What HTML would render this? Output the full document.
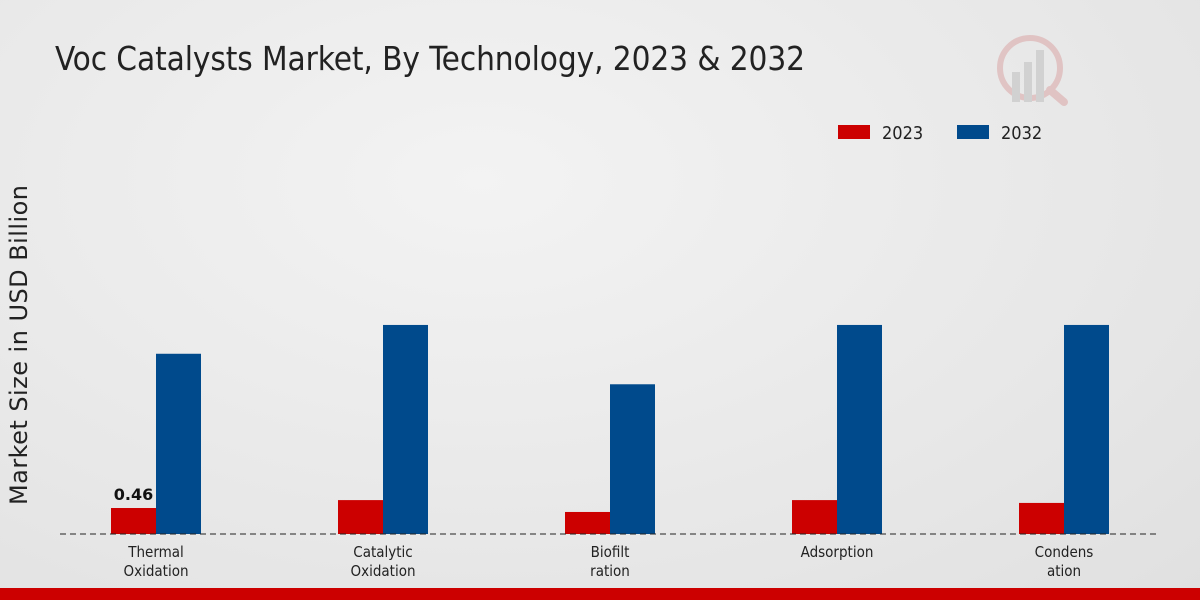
<!DOCTYPE html>
<html><head><meta charset="utf-8"><style>
body{margin:0;width:1200px;height:600px;overflow:hidden;font-family:"Liberation Sans","DejaVu Sans",sans-serif}
#wrap{position:relative;width:1200px;height:600px;background:radial-gradient(ellipse at 40% 30%,#f3f3f3 0%,#e6e6e6 70%,#e0e0e0 100%)}
</style></head><body>
<div id="wrap">
<svg id="chart" width="1200" height="600" style="position:absolute;left:0;top:0">
<text x="55" y="70" font-size="33" fill="#222" font-family="DejaVu Sans Condensed, DejaVu Sans, sans-serif" textLength="750">Voc Catalysts Market, By Technology, 2023 &amp; 2032</text>
<text transform="translate(27,345) rotate(-90)" text-anchor="middle" font-size="24" fill="#222" font-family="DejaVu Sans, sans-serif" textLength="320">Market Size in USD Billion</text>
<g>
<rect x="838" y="125" width="32" height="14" fill="#cc0000"/>
<text x="882" y="139" font-size="18" fill="#222" font-family="DejaVu Sans Condensed, DejaVu Sans, sans-serif">2023</text>
<rect x="957" y="125" width="32" height="14" fill="#004a8c"/>
<text x="1001" y="139" font-size="18" fill="#222" font-family="DejaVu Sans Condensed, DejaVu Sans, sans-serif">2032</text>
</g>
<g opacity="0.5">
<circle cx="1030" cy="68" r="30" fill="none" stroke="#d9a0a0" stroke-width="6"/>
<rect x="1012" y="72" width="8" height="30" fill="#bbb"/><rect x="1024" y="62" width="8" height="40" fill="#bbb"/><rect x="1036" y="50" width="8" height="52" fill="#bbb"/>
<line x1="1050" y1="90" x2="1064" y2="102" stroke="#d9a0a0" stroke-width="8" stroke-linecap="round"/>
</g>
<g id="bars"></g>
<line x1="60" y1="534" x2="1160" y2="534" stroke="#222" stroke-width="1" stroke-dasharray="6,4"/>
<g id="xlabels"></g>
<rect x="0" y="588" width="1200" height="12" fill="#cc0000"/>
</svg>
</div>
<script>
const categories=[["Thermal","Oxidation"],["Catalytic","Oxidation"],["Biofilt","ration"],["Adsorption"],["Condens","ation"]];
const values2023=[0.46,0.6,0.39,0.6,0.55];
const values2032=[3.19,3.7,2.65,3.7,3.7];
const labels2023=["0.46",null,null,null,null];
const NS="http://www.w3.org/2000/svg";
const baseY=534,pxPerUnit=56.5,x0=156,step=227,bw=45;
const yScale=v=>baseY-v*pxPerUnit;
const xCenter=i=>x0+i*step;
const bars=document.getElementById('bars'),xl=document.getElementById('xlabels');
function mk(tag,attrs){const e=document.createElementNS(NS,tag);for(const k in attrs)e.setAttribute(k,attrs[k]);return e;}
categories.forEach((c,i)=>{
 const cx=xCenter(i);
 const r=mk('rect',{x:cx-bw,y:yScale(values2023[i]),width:bw,height:baseY-yScale(values2023[i]),fill:'#cc0000'});
 
 
 bars.appendChild(r);
 const b=mk('rect',{x:cx,y:yScale(values2032[i]),width:bw,height:baseY-yScale(values2032[i]),fill:'#004a8c'});
 
 
 bars.appendChild(b);
 if(labels2023[i]){const t=mk('text',{x:cx-bw/2,y:yScale(values2023[i])-8,'text-anchor':'middle','font-size':'16','font-weight':'bold',fill:'#111','font-family':'DejaVu Sans, sans-serif'});t.textContent=labels2023[i];
 
 
 bars.appendChild(t);}
 c.forEach((ln,j)=>{const t=mk('text',{x:cx,y:557+j*19,'text-anchor':'middle','font-size':'15',fill:'#222','font-family':'DejaVu Sans Condensed, DejaVu Sans, sans-serif'});t.textContent=ln;
 
 
 xl.appendChild(t);});
});
</script>
</body></html>
